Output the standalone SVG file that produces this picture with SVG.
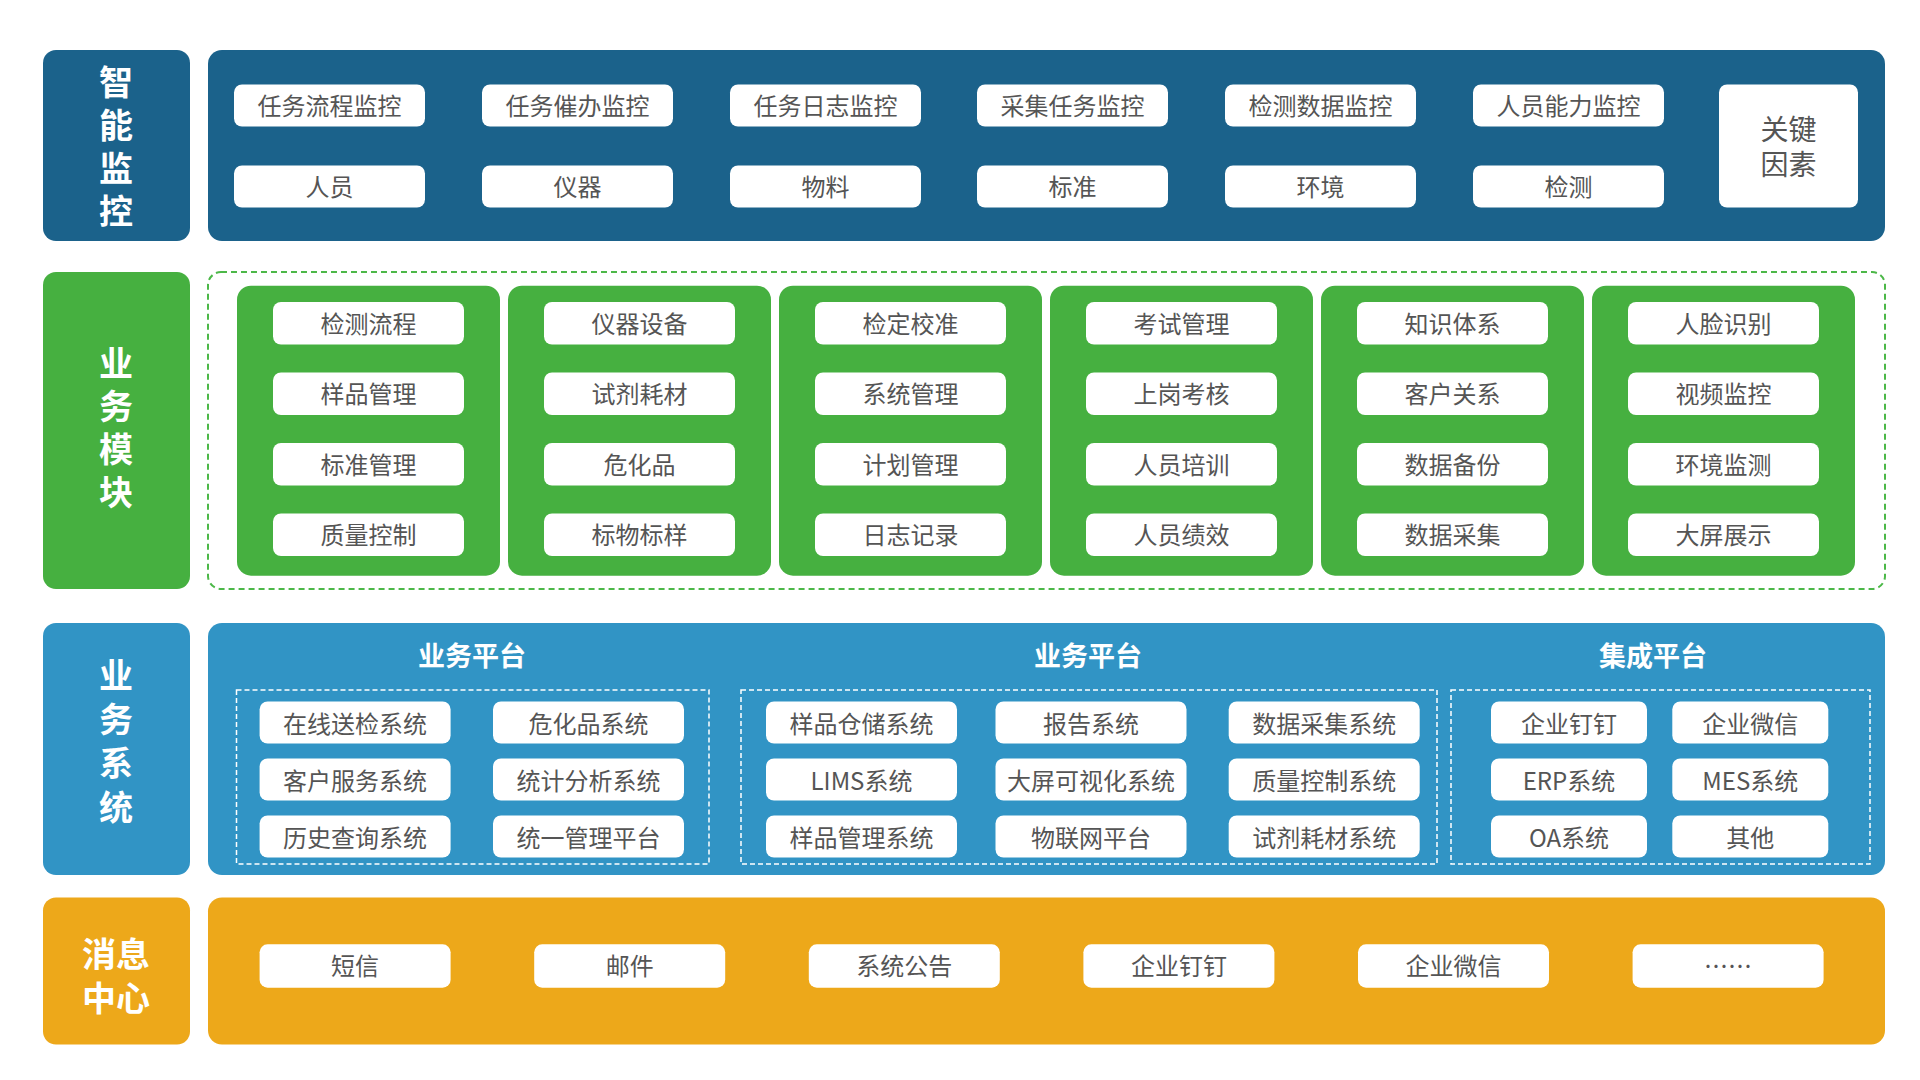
<svg xmlns="http://www.w3.org/2000/svg" width="1920" height="1080" viewBox="0 0 1920 1080">
<style>
.t{font-family:"Noto Sans CJK SC","Noto Sans",sans-serif;font-size:24px;fill:#555555;text-anchor:middle;dominant-baseline:central}
.lbl{font-family:"Noto Sans CJK SC","Noto Sans",sans-serif;font-size:34px;font-weight:bold;fill:#ffffff;text-anchor:middle;dominant-baseline:central}
.vl{font-family:"Noto Sans CJK SC","Noto Sans",sans-serif;font-size:34px;font-weight:bold;fill:#ffffff;text-anchor:middle;writing-mode:vertical-rl;letter-spacing:9px}
.ttl{font-family:"Noto Sans CJK SC","Noto Sans",sans-serif;font-size:27px;font-weight:bold;fill:#ffffff;text-anchor:middle;dominant-baseline:central}
.wb{fill:#ffffff}
.c1{fill:#1b628b}
.c2{fill:#46b040}
.c3{fill:#3194c5}
.c4{fill:#eda81a}
.dg{fill:none;stroke:#4cb848;stroke-width:2;stroke-dasharray:6 4}
.dw{fill:none;stroke:#ffffff;stroke-width:1.5;stroke-dasharray:5 3}
</style>
<rect width="1920" height="1080" fill="#ffffff"/>

<!-- Row 1: 智能监控 -->
<g id="label-monitor">
<rect class="c1" x="43" y="50" width="147" height="191" rx="13"/>
<text class="vl" x="116" y="151.5">智能监控</text>
</g>
<g id="panel-monitor">
<rect class="c1" x="208" y="50" width="1677" height="191" rx="14"/>
<g id="m1"><rect class="wb" x="234" y="84.5" width="191" height="42" rx="8"/><text class="t" x="329.5" y="104.5">任务流程监控</text></g>
<g id="m2"><rect class="wb" x="482" y="84.5" width="191" height="42" rx="8"/><text class="t" x="577.5" y="104.5">任务催办监控</text></g>
<g id="m3"><rect class="wb" x="730" y="84.5" width="191" height="42" rx="8"/><text class="t" x="825.5" y="104.5">任务日志监控</text></g>
<g id="m4"><rect class="wb" x="977" y="84.5" width="191" height="42" rx="8"/><text class="t" x="1072.5" y="104.5">采集任务监控</text></g>
<g id="m5"><rect class="wb" x="1225" y="84.5" width="191" height="42" rx="8"/><text class="t" x="1320.5" y="104.5">检测数据监控</text></g>
<g id="m6"><rect class="wb" x="1473" y="84.5" width="191" height="42" rx="8"/><text class="t" x="1568.5" y="104.5">人员能力监控</text></g>
<g id="m7"><rect class="wb" x="234" y="165.5" width="191" height="42" rx="8"/><text class="t" x="329.5" y="185.5">人员</text></g>
<g id="m8"><rect class="wb" x="482" y="165.5" width="191" height="42" rx="8"/><text class="t" x="577.5" y="185.5">仪器</text></g>
<g id="m9"><rect class="wb" x="730" y="165.5" width="191" height="42" rx="8"/><text class="t" x="825.5" y="185.5">物料</text></g>
<g id="m10"><rect class="wb" x="977" y="165.5" width="191" height="42" rx="8"/><text class="t" x="1072.5" y="185.5">标准</text></g>
<g id="m11"><rect class="wb" x="1225" y="165.5" width="191" height="42" rx="8"/><text class="t" x="1320.5" y="185.5">环境</text></g>
<g id="m12"><rect class="wb" x="1473" y="165.5" width="191" height="42" rx="8"/><text class="t" x="1568.5" y="185.5">检测</text></g>
<g id="m-key"><rect class="wb" x="1719" y="84.5" width="139" height="123" rx="8"/><text class="t" x="1788.5" y="128" style="font-size:28px">关键<tspan x="1788.5" dy="35">因素</tspan></text></g>
</g>

<!-- Row 2: 业务模块 -->
<g id="label-modules">
<rect class="c2" x="43" y="272" width="147" height="317" rx="13"/>
<text class="vl" x="116" y="432">业务模块</text>
</g>
<g id="panel-modules">
<rect class="dg" x="208" y="272" width="1677" height="317" rx="13"/>
<g id="col1">
<rect class="c2" x="237" y="285.7" width="263" height="290" rx="14"/>
<rect class="wb" x="273" y="302" width="191" height="42.5" rx="8"/><text class="t" x="368.5" y="322">检测流程</text>
<rect class="wb" x="273" y="372.5" width="191" height="42.5" rx="8"/><text class="t" x="368.5" y="392.5">样品管理</text>
<rect class="wb" x="273" y="443" width="191" height="42.5" rx="8"/><text class="t" x="368.5" y="463">标准管理</text>
<rect class="wb" x="273" y="513.5" width="191" height="42.5" rx="8"/><text class="t" x="368.5" y="533.5">质量控制</text>
</g>
<g id="col2">
<rect class="c2" x="508" y="285.7" width="263" height="290" rx="14"/>
<rect class="wb" x="544" y="302" width="191" height="42.5" rx="8"/><text class="t" x="639.5" y="322">仪器设备</text>
<rect class="wb" x="544" y="372.5" width="191" height="42.5" rx="8"/><text class="t" x="639.5" y="392.5">试剂耗材</text>
<rect class="wb" x="544" y="443" width="191" height="42.5" rx="8"/><text class="t" x="639.5" y="463">危化品</text>
<rect class="wb" x="544" y="513.5" width="191" height="42.5" rx="8"/><text class="t" x="639.5" y="533.5">标物标样</text>
</g>
<g id="col3">
<rect class="c2" x="779" y="285.7" width="263" height="290" rx="14"/>
<rect class="wb" x="815" y="302" width="191" height="42.5" rx="8"/><text class="t" x="910.5" y="322">检定校准</text>
<rect class="wb" x="815" y="372.5" width="191" height="42.5" rx="8"/><text class="t" x="910.5" y="392.5">系统管理</text>
<rect class="wb" x="815" y="443" width="191" height="42.5" rx="8"/><text class="t" x="910.5" y="463">计划管理</text>
<rect class="wb" x="815" y="513.5" width="191" height="42.5" rx="8"/><text class="t" x="910.5" y="533.5">日志记录</text>
</g>
<g id="col4">
<rect class="c2" x="1050" y="285.7" width="263" height="290" rx="14"/>
<rect class="wb" x="1086" y="302" width="191" height="42.5" rx="8"/><text class="t" x="1181.5" y="322">考试管理</text>
<rect class="wb" x="1086" y="372.5" width="191" height="42.5" rx="8"/><text class="t" x="1181.5" y="392.5">上岗考核</text>
<rect class="wb" x="1086" y="443" width="191" height="42.5" rx="8"/><text class="t" x="1181.5" y="463">人员培训</text>
<rect class="wb" x="1086" y="513.5" width="191" height="42.5" rx="8"/><text class="t" x="1181.5" y="533.5">人员绩效</text>
</g>
<g id="col5">
<rect class="c2" x="1321" y="285.7" width="263" height="290" rx="14"/>
<rect class="wb" x="1357" y="302" width="191" height="42.5" rx="8"/><text class="t" x="1452.5" y="322">知识体系</text>
<rect class="wb" x="1357" y="372.5" width="191" height="42.5" rx="8"/><text class="t" x="1452.5" y="392.5">客户关系</text>
<rect class="wb" x="1357" y="443" width="191" height="42.5" rx="8"/><text class="t" x="1452.5" y="463">数据备份</text>
<rect class="wb" x="1357" y="513.5" width="191" height="42.5" rx="8"/><text class="t" x="1452.5" y="533.5">数据采集</text>
</g>
<g id="col6">
<rect class="c2" x="1592" y="285.7" width="263" height="290" rx="14"/>
<rect class="wb" x="1628" y="302" width="191" height="42.5" rx="8"/><text class="t" x="1723.5" y="322">人脸识别</text>
<rect class="wb" x="1628" y="372.5" width="191" height="42.5" rx="8"/><text class="t" x="1723.5" y="392.5">视频监控</text>
<rect class="wb" x="1628" y="443" width="191" height="42.5" rx="8"/><text class="t" x="1723.5" y="463">环境监测</text>
<rect class="wb" x="1628" y="513.5" width="191" height="42.5" rx="8"/><text class="t" x="1723.5" y="533.5">大屏展示</text>
</g>
</g>

<!-- Row 3: 业务系统 -->
<g id="label-systems">
<rect class="c3" x="43" y="623" width="147" height="252" rx="13"/>
<text class="vl" x="116" y="746" style="letter-spacing:10px">业务系统</text>
</g>
<g id="panel-systems">
<rect class="c3" x="208" y="623" width="1677" height="252" rx="14"/>
<g id="grp1">
<text class="ttl" x="472" y="654">业务平台</text>
<rect class="dw" x="236.5" y="690" width="472.5" height="174"/>
<rect class="wb" x="259.6" y="701.5" width="191" height="42" rx="8"/><text class="t" x="355.1" y="722">在线送检系统</text>
<rect class="wb" x="493" y="701.5" width="191" height="42" rx="8"/><text class="t" x="588.5" y="722">危化品系统</text>
<rect class="wb" x="259.6" y="758.5" width="191" height="42" rx="8"/><text class="t" x="355.1" y="779">客户服务系统</text>
<rect class="wb" x="493" y="758.5" width="191" height="42" rx="8"/><text class="t" x="588.5" y="779">统计分析系统</text>
<rect class="wb" x="259.6" y="815.5" width="191" height="42" rx="8"/><text class="t" x="355.1" y="836">历史查询系统</text>
<rect class="wb" x="493" y="815.5" width="191" height="42" rx="8"/><text class="t" x="588.5" y="836">统一管理平台</text>
</g>
<g id="grp2">
<text class="ttl" x="1088" y="654">业务平台</text>
<rect class="dw" x="741" y="690" width="696" height="174"/>
<rect class="wb" x="766" y="701.5" width="191" height="42" rx="8"/><text class="t" x="861.5" y="722">样品仓储系统</text>
<rect class="wb" x="995.5" y="701.5" width="191" height="42" rx="8"/><text class="t" x="1091" y="722">报告系统</text>
<rect class="wb" x="1228.7" y="701.5" width="191" height="42" rx="8"/><text class="t" x="1324.2" y="722">数据采集系统</text>
<rect class="wb" x="766" y="758.5" width="191" height="42" rx="8"/><text class="t" x="861.5" y="779">LIMS系统</text>
<rect class="wb" x="995.5" y="758.5" width="191" height="42" rx="8"/><text class="t" x="1091" y="779">大屏可视化系统</text>
<rect class="wb" x="1228.7" y="758.5" width="191" height="42" rx="8"/><text class="t" x="1324.2" y="779">质量控制系统</text>
<rect class="wb" x="766" y="815.5" width="191" height="42" rx="8"/><text class="t" x="861.5" y="836">样品管理系统</text>
<rect class="wb" x="995.5" y="815.5" width="191" height="42" rx="8"/><text class="t" x="1091" y="836">物联网平台</text>
<rect class="wb" x="1228.7" y="815.5" width="191" height="42" rx="8"/><text class="t" x="1324.2" y="836">试剂耗材系统</text>
</g>
<g id="grp3">
<text class="ttl" x="1653" y="654">集成平台</text>
<rect class="dw" x="1451" y="690" width="419" height="174"/>
<rect class="wb" x="1491" y="701.5" width="156" height="42" rx="8"/><text class="t" x="1569" y="722">企业钉钉</text>
<rect class="wb" x="1672.3" y="701.5" width="156" height="42" rx="8"/><text class="t" x="1750.3" y="722">企业微信</text>
<rect class="wb" x="1491" y="758.5" width="156" height="42" rx="8"/><text class="t" x="1569" y="779">ERP系统</text>
<rect class="wb" x="1672.3" y="758.5" width="156" height="42" rx="8"/><text class="t" x="1750.3" y="779">MES系统</text>
<rect class="wb" x="1491" y="815.5" width="156" height="42" rx="8"/><text class="t" x="1569" y="836">OA系统</text>
<rect class="wb" x="1672.3" y="815.5" width="156" height="42" rx="8"/><text class="t" x="1750.3" y="836">其他</text>
</g>
</g>

<!-- Row 4: 消息中心 -->
<g id="label-message">
<rect class="c4" x="43" y="897.5" width="147" height="147" rx="13"/>
<text class="lbl" x="116" y="952">消息<tspan x="116" dy="44">中心</tspan></text>
</g>
<g id="panel-message">
<rect class="c4" x="208" y="897.5" width="1677" height="147" rx="14"/>
<g id="msg1"><rect class="wb" x="259.6" y="944.3" width="191" height="43.4" rx="8"/><text class="t" x="355.1" y="964.5">短信</text></g>
<g id="msg2"><rect class="wb" x="534.2" y="944.3" width="191" height="43.4" rx="8"/><text class="t" x="629.7" y="964.5">邮件</text></g>
<g id="msg3"><rect class="wb" x="808.8" y="944.3" width="191" height="43.4" rx="8"/><text class="t" x="904.3" y="964.5">系统公告</text></g>
<g id="msg4"><rect class="wb" x="1083.4" y="944.3" width="191" height="43.4" rx="8"/><text class="t" x="1178.9" y="964.5">企业钉钉</text></g>
<g id="msg5"><rect class="wb" x="1358" y="944.3" width="191" height="43.4" rx="8"/><text class="t" x="1453.5" y="964.5">企业微信</text></g>
<g id="msg6"><rect class="wb" x="1632.6" y="944.3" width="191" height="43.4" rx="8"/><text class="t" x="1728.1" y="964.5">……</text></g>
</g>

<g id="connectors"></g>
</svg>
